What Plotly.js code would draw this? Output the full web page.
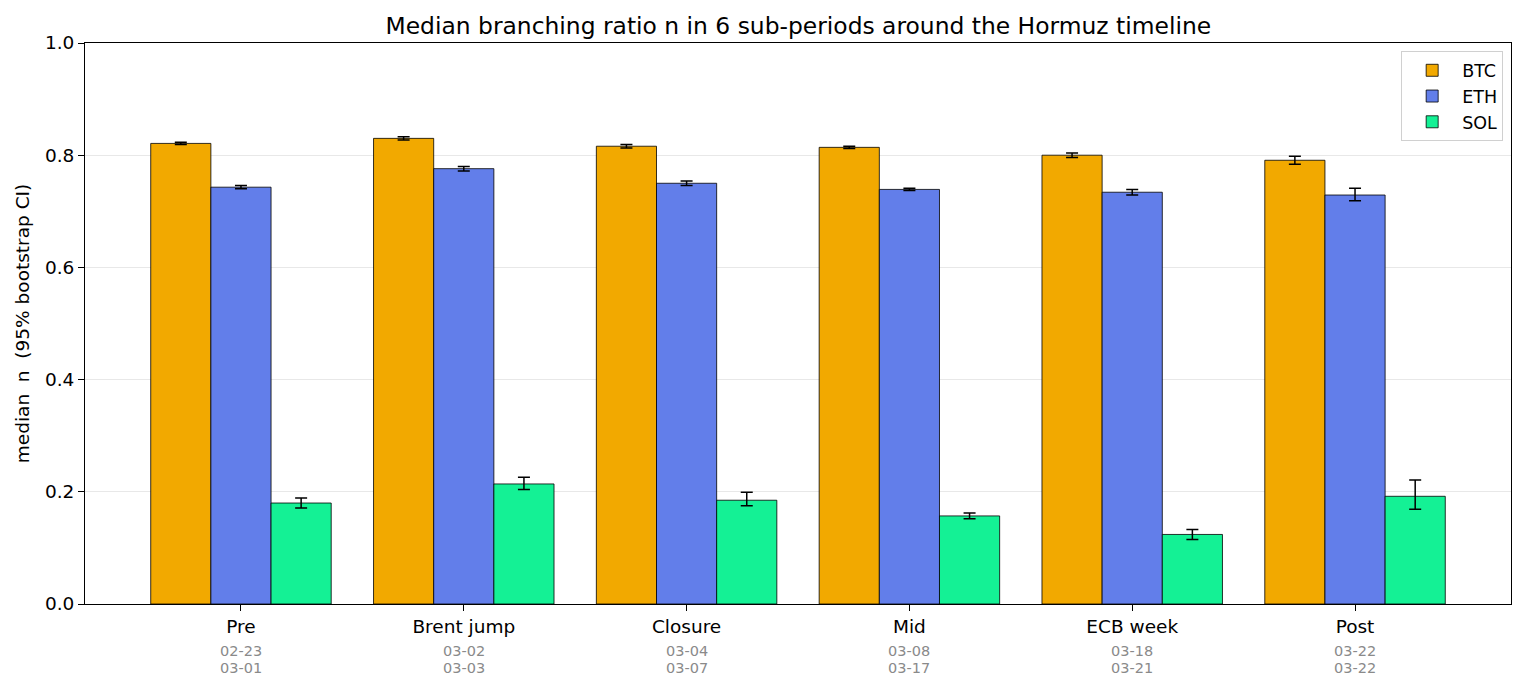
<!DOCTYPE html>
<html>
<head>
<meta charset="utf-8">
<script src="https://cdn.plot.ly/plotly-3.0.1.min.js"></script>
<style>html,body{margin:0;padding:0;background:#fff;}#chart{width:1525px;height:690px;}</style>
</head>
<body>
<div id="chart"></div>
<script>
var categories = ["Pre", "Brent jump", "Closure", "Mid", "ECB week", "Post"];
var dateStart = ["02-23", "03-02", "03-04", "03-08", "03-18", "03-22"];
var dateEnd = ["03-01", "03-03", "03-07", "03-17", "03-21", "03-22"];

var btc = [0.821, 0.830, 0.816, 0.814, 0.800, 0.791];
var btcErrPlus = [0.002, 0.003, 0.003, 0.002, 0.004, 0.007];
var btcErrMinus = [0.002, 0.003, 0.003, 0.002, 0.004, 0.007];

var eth = [0.743, 0.776, 0.750, 0.739, 0.734, 0.729];
var ethErrPlus = [0.003, 0.004, 0.004, 0.002, 0.005, 0.012];
var ethErrMinus = [0.003, 0.004, 0.004, 0.002, 0.005, 0.010];

var sol = [0.180, 0.214, 0.185, 0.157, 0.124, 0.192];
var solErrPlus = [0.009, 0.012, 0.014, 0.005, 0.009, 0.029];
var solErrMinus = [0.009, 0.010, 0.010, 0.005, 0.009, 0.023];

var seriesNames = ["BTC", "ETH", "SOL"];
var colors = ["#F2A900", "#627EEA", "#14F195"];

var x = categories.map(function(c, i){ return i; });

function mk(name, y, ep, em, color){
  return {
    type: "bar", name: name, x: x, y: y,
    marker: {color: color, line: {color: "#000", width: 0.8}},
    error_y: {type: "data", symmetric: false, array: ep, arrayminus: em, color: "#000", thickness: 1.5, width: 6},
    hoverinfo: "y"
  };
}
var data = [
  mk(seriesNames[0], btc, btcErrPlus, btcErrMinus, colors[0]),
  mk(seriesNames[1], eth, ethErrPlus, ethErrMinus, colors[1]),
  mk(seriesNames[2], sol, solErrPlus, solErrMinus, colors[2])
];

var annotations = [];
categories.forEach(function(c, i){
  annotations.push({x: i, xref: "x", y: 0, yref: "paper", yanchor: "middle", yshift: -47, showarrow: false,
    text: dateStart[i], font: {size: 14.5, color: "#8a8a8a", family: "DejaVu Sans"}});
  annotations.push({x: i, xref: "x", y: 0, yref: "paper", yanchor: "middle", yshift: -64, showarrow: false,
    text: dateEnd[i], font: {size: 14.5, color: "#8a8a8a", family: "DejaVu Sans"}});
});

var layout = {
  width: 1525, height: 690,
  margin: {l: 85, r: 14, t: 43, b: 86},
  paper_bgcolor: "#fff", plot_bgcolor: "#fff",
  font: {family: "DejaVu Sans", size: 18.5, color: "#000"},
  title: {text: "Median branching ratio n in 6 sub-periods around the Hormuz timeline", font: {size: 23.4, family: "DejaVu Sans"}, x: 0.5235, xanchor: "center", y: 0.963, yanchor: "middle"},
  barmode: "group", bargap: 0.19, bargroupgap: 0,
  xaxis: {
    range: [-0.7, 5.7], tickmode: "array", tickvals: x, ticktext: categories,
    showline: true, mirror: true, linecolor: "#000", linewidth: 1,
    ticks: "outside", ticklen: 6, tickcolor: "#000", showgrid: false, zeroline: false,
    tickfont: {size: 18.5}
  },
  yaxis: {
    range: [0, 1], tickmode: "array", tickvals: [0, 0.2, 0.4, 0.6, 0.8, 1.0], tickformat: ".1f",
    showline: true, mirror: true, linecolor: "#000", linewidth: 1,
    ticks: "outside", ticklen: 6, tickcolor: "#000",
    showgrid: true, gridcolor: "#e8e8e8", gridwidth: 1, zeroline: false,
    title: {text: "median\u00a0\u00a0n\u00a0\u00a0(95% bootstrap CI)", font: {size: 18.5}, standoff: 10},
    tickfont: {size: 18.5}
  },
  annotations: annotations,
  legend: {x: 0.9945, xanchor: "right", y: 0.985, yanchor: "top", bgcolor: "rgba(255,255,255,0.9)", bordercolor: "#d0d0d0", borderwidth: 1, font: {size: 17.5}, itemwidth: 50},
  showlegend: true
};

Plotly.newPlot("chart", data, layout, {displayModeBar: false, staticPlot: true});
</script>
</body>
</html>
